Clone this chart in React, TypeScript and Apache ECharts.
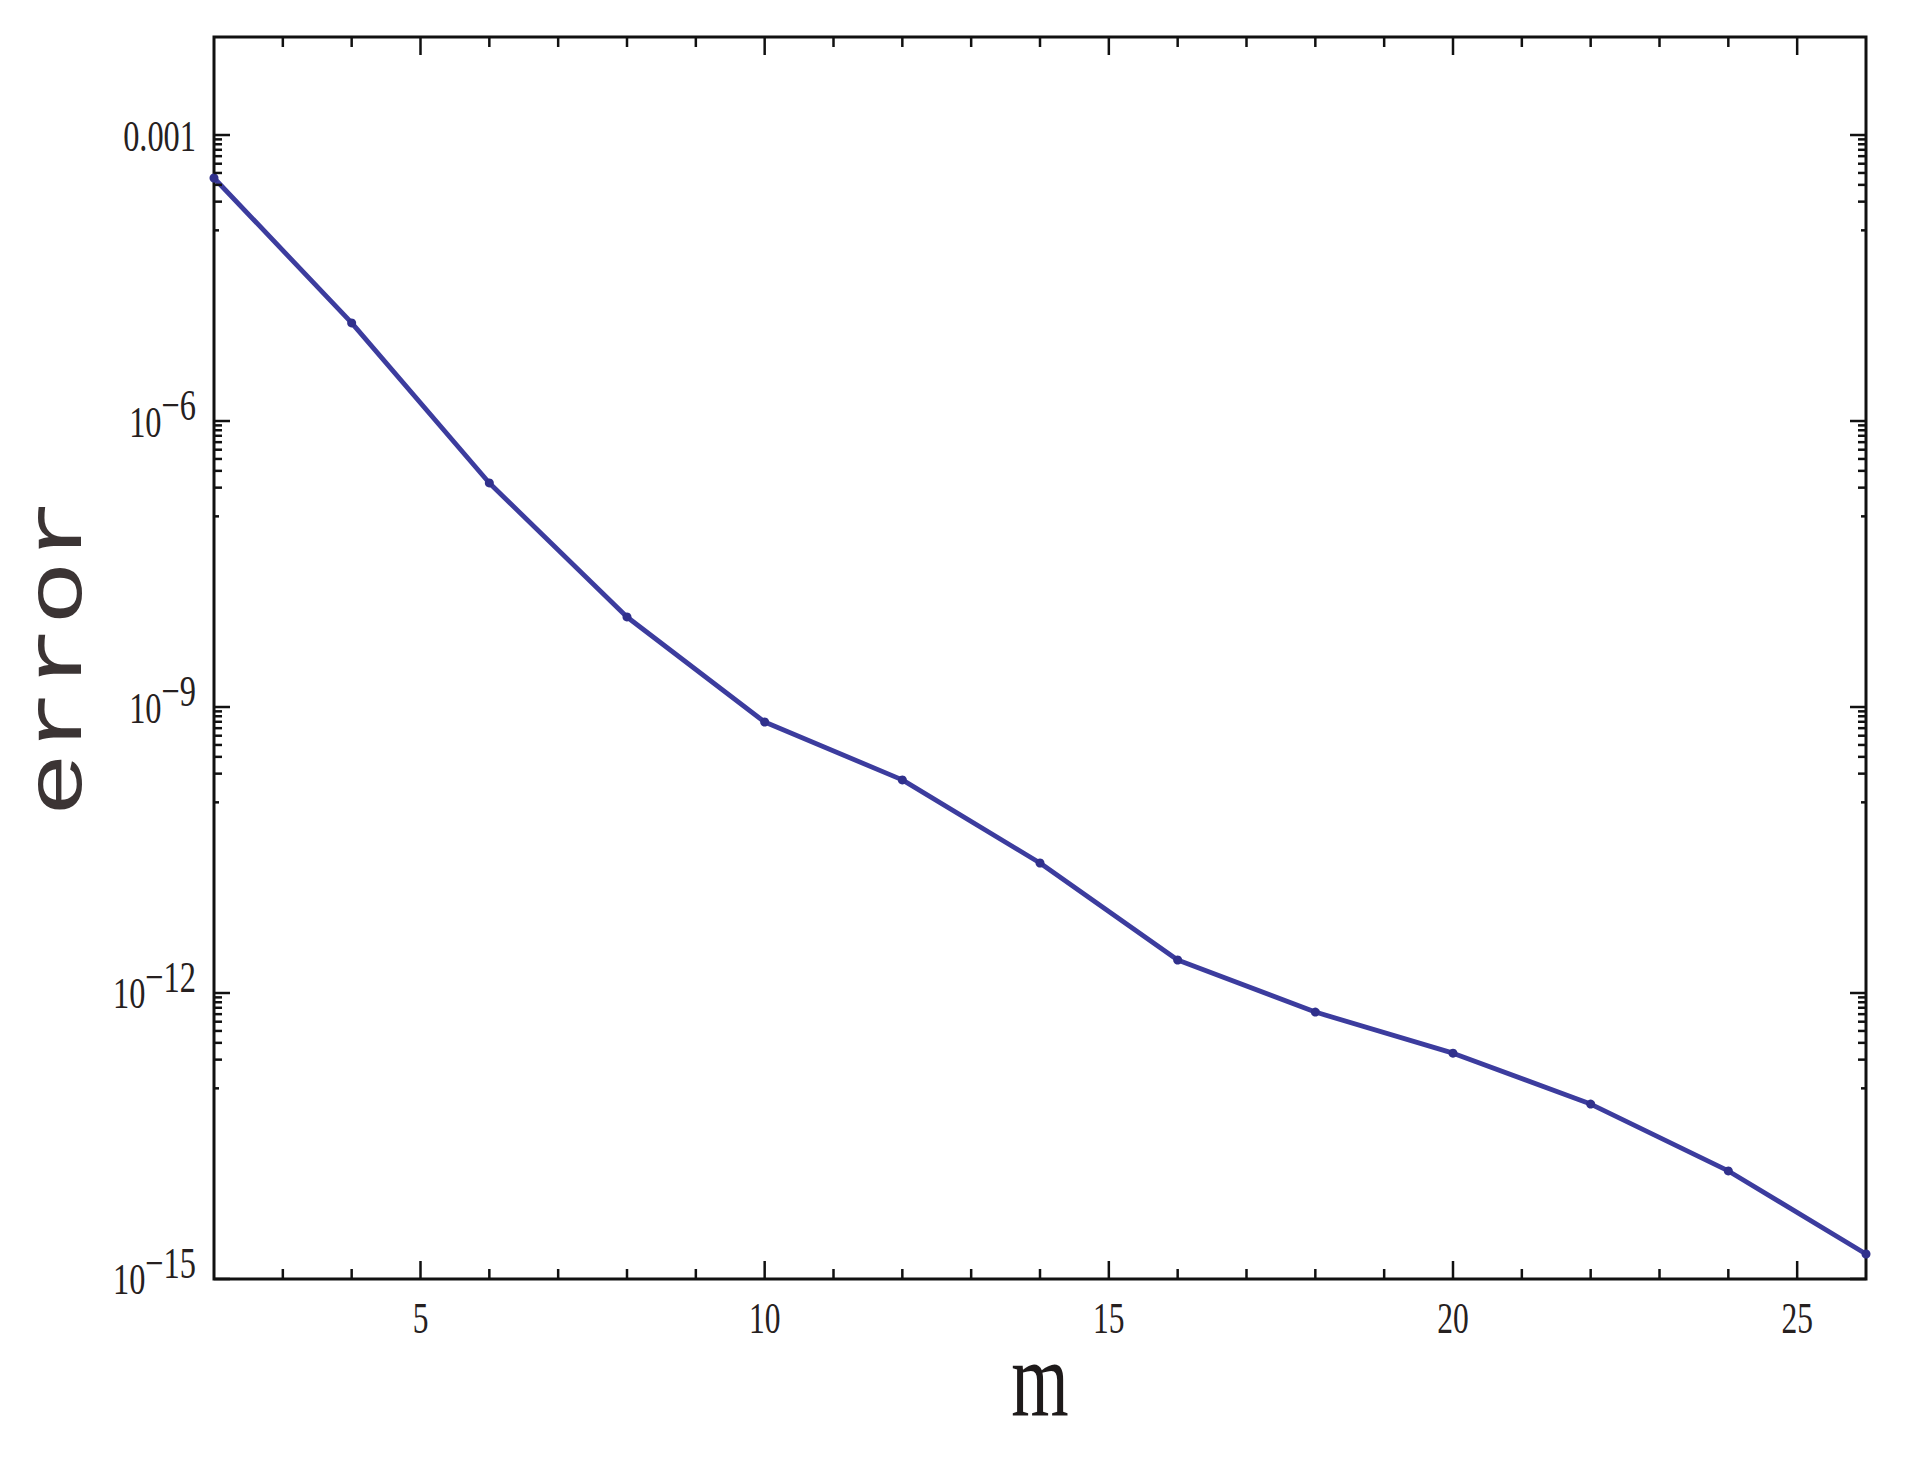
import React, { useEffect, useRef } from 'react';
import * as echarts from 'echarts';

// ---- data ----
const mValues = [2, 4, 6, 8, 10, 12, 14, 16, 18, 20, 22, 24, 26];
const errorValues = [
  3.54e-4, 1.07e-5, 2.24e-7, 8.8e-9, 6.96e-10, 1.72e-10, 2.31e-11,
  2.22e-12, 6.31e-13, 2.34e-13, 6.84e-14, 1.36e-14, 1.83e-15,
];

// ---- axes ----
const xMin = 2;
const xMax = 26;
const yMin = 1e-15;
const yMax = 1.067e-2;
const xMajorTicks = [5, 10, 15, 20, 25];
const xMinorTicks = [3, 4, 6, 7, 8, 9, 11, 12, 13, 14, 16, 17, 18, 19, 21, 22, 23, 24];
const yMajorTicks = [1e-15, 1e-12, 1e-9, 1e-6, 1e-3];
const yMinorMultipliers = [2, 3, 4, 5, 6, 7, 8, 9];
const xTitle = 'm';
const yTitle = 'error';

const FONT = "'Liberation Serif', 'Times New Roman', serif";
const MONO = "'Liberation Mono', 'Courier New', monospace";
const TICK = '#111111';
const LABEL = '#262020';
const LINE = '#3c3c9e';

// minor ticks in the decade just below each labelled decade
const yDecadeBelow = yMajorTicks.map((v) => v / 10).filter((v) => v >= yMin);
const yMinorTicks: number[] = [];
yMajorTicks.forEach((v) => {
  const base = v / 10;
  if (base >= yMin) yMinorMultipliers.forEach((k) => yMinorTicks.push(base * k));
});

function formatY(v: number): string {
  const exp = Math.round(Math.log10(v));
  if (exp >= -3) return v.toFixed(-exp);
  return `{b|10}{s|\u2212${-exp}}`;
}

function xTickSeries(values: number[], len: number) {
  return {
    type: 'custom',
    silent: true,
    clip: false,
    z: 4,
    data: values.map((v) => [v, yMin]),
    renderItem: (_p: any, api: any) => {
      const v = api.value(0);
      const b = api.coord([v, yMin]);
      const t = api.coord([v, yMax]);
      return {
        type: 'group',
        children: [
          { type: 'line', shape: { x1: b[0], y1: b[1], x2: b[0], y2: b[1] - len }, style: { stroke: TICK, lineWidth: 2.5 } },
          { type: 'line', shape: { x1: t[0], y1: t[1], x2: t[0], y2: t[1] + len }, style: { stroke: TICK, lineWidth: 2.5 } },
        ],
      };
    },
  };
}

function yTickSeries(values: number[], len: number) {
  return {
    type: 'custom',
    silent: true,
    clip: false,
    z: 4,
    data: values.map((v) => [xMin, v]),
    renderItem: (_p: any, api: any) => {
      const v = api.value(1);
      const l = api.coord([xMin, v]);
      const r = api.coord([xMax, v]);
      return {
        type: 'group',
        children: [
          { type: 'line', shape: { x1: l[0], y1: l[1], x2: l[0] + len, y2: l[1] }, style: { stroke: TICK, lineWidth: 2.5 } },
          { type: 'line', shape: { x1: r[0], y1: r[1], x2: r[0] - len, y2: r[1] }, style: { stroke: TICK, lineWidth: 2.5 } },
        ],
      };
    },
  };
}

const labelStyle = { fontSize: 45, fontFamily: FONT, fill: LABEL };

function xLabelSeries() {
  return {
    type: 'custom',
    silent: true,
    clip: false,
    z: 4,
    data: xMajorTicks.map((v) => [v, yMin]),
    renderItem: (_p: any, api: any) => {
      const v = api.value(0);
      const p = api.coord([v, yMin]);
      return {
        type: 'text',
        x: p[0],
        y: p[1] + 38,
        scaleX: 0.7,
        style: {
          text: String(v),
          ...labelStyle,
          align: 'center',
          verticalAlign: 'middle',
          textAlign: 'center',
          textVerticalAlign: 'middle',
        },
      };
    },
  };
}

function yLabelSeries() {
  return {
    type: 'custom',
    silent: true,
    clip: false,
    z: 4,
    data: yMajorTicks.map((v) => [xMin, v]),
    renderItem: (_p: any, api: any) => {
      const v = api.value(1);
      const p = api.coord([xMin, v]);
      return {
        type: 'text',
        x: p[0] - 18,
        y: p[1],
        scaleX: 0.72,
        style: {
          text: formatY(v),
          ...labelStyle,
          align: 'right',
          verticalAlign: 'middle',
          textAlign: 'right',
          textVerticalAlign: 'middle',
          rich: {
            b: { ...labelStyle },
            s: { ...labelStyle, padding: [0, 0, 34, 0], textPadding: [0, 0, 34, 0] },
          },
        },
      };
    },
  };
}

export default function App() {
  const ref = useRef<HTMLDivElement>(null);

  useEffect(() => {
    if (!ref.current) return;
    const chart = echarts.init(ref.current, null, { renderer: 'svg' });
    chart.setOption({
      animation: false,
      backgroundColor: '#ffffff',
      grid: {
        left: 214,
        top: 37,
        right: 48,
        bottom: 182,
        show: true,
        borderColor: TICK,
        borderWidth: 3,
        backgroundColor: 'transparent',
      },
      xAxis: {
        type: 'value',
        min: xMin,
        max: xMax,
        axisLine: { show: false },
        axisTick: { show: false },
        axisLabel: { show: false },
        splitLine: { show: false },
      },
      yAxis: {
        type: 'log',
        logBase: 10,
        min: yMin,
        max: yMax,
        axisLine: { show: false },
        axisTick: { show: false },
        axisLabel: { show: false },
        splitLine: { show: false },
      },
      graphic: [
        {
          type: 'text',
          x: 1040,
          y: 1380,
          scaleX: 0.69,
          style: {
            text: xTitle,
            fontSize: 107,
            fontFamily: FONT,
            fill: '#1e1a1a',
            align: 'center',
            verticalAlign: 'middle',
            textAlign: 'center',
            textVerticalAlign: 'middle',
          },
        },
        {
          type: 'text',
          x: 60,
          y: 657,
          rotation: Math.PI / 2,
          scaleX: 1.33,
          style: {
            text: yTitle,
            fontSize: 80,
            fontFamily: MONO,
            fill: '#3b3434',
            align: 'center',
            verticalAlign: 'middle',
            textAlign: 'center',
            textVerticalAlign: 'middle',
          },
        },
      ],
      series: [
        {
          type: 'line',
          data: mValues.map((m, i) => [m, errorValues[i]]),
          symbol: 'circle',
          symbolSize: 9,
          showSymbol: true,
          clip: false,
          z: 3,
          lineStyle: { color: LINE, width: 4.8 },
          itemStyle: { color: '#30308c' },
        },
        xTickSeries(xMajorTicks, 18),
        xTickSeries(xMinorTicks, 10),
        yTickSeries(yMajorTicks, 16),
        yTickSeries(yMinorTicks, 8),
        yTickSeries(yDecadeBelow, 5),
        xLabelSeries(),
        yLabelSeries(),
      ],
    });
    return () => chart.dispose();
  }, []);

  return (
    <div
      ref={ref}
      style={{ position: 'fixed', left: 0, top: 0, width: 1914, height: 1461, background: '#fff' }}
    />
  );
}
